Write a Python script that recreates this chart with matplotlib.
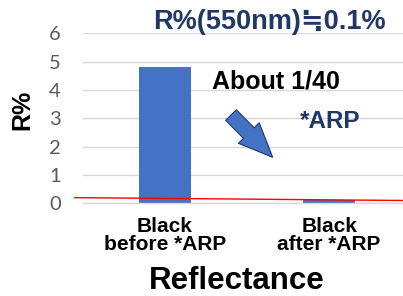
import matplotlib
matplotlib.use("Agg")
import matplotlib.pyplot as plt

plt.rcParams['font.family'] = ['Liberation Sans', 'DejaVu Sans', 'Noto Sans CJK JP']

# data
categories = ["Black\nbefore *ARP", "Black\nafter *ARP"]
reflectance = [4.8, 0.1]
yticks = [0, 1, 2, 3, 4, 5, 6]
# red reference line (approx 0.1 %)
ref_line_x = [-0.55, 1.45]
ref_line_y = [0.2, 0.1]

bar_color = "#4472C4"
navy = "#1F3864"

fig = plt.figure(figsize=(4.03, 2.96), dpi=100)
ax = fig.add_axes([83 / 403, 1 - 203.3 / 296, 320 / 403, (203.3 - 33.3) / 296])

x = list(range(len(categories)))
ax.bar(x, reflectance, width=0.32, color=bar_color, zorder=2)
ax.set_xlim(-0.5, 1.45)
ax.set_ylim(0, 6)
ax.set_yticks(yticks)
ax.grid(axis='y', color='#d9d9d9', linewidth=1, zorder=0)
ax.set_axisbelow(True)
for s in ['top', 'right', 'left']:
    ax.spines[s].set_visible(False)
ax.spines['bottom'].set_color('#d9d9d9')
ax.spines['bottom'].set_linewidth(1)
ax.tick_params(axis='y', length=0, pad=16, labelsize=14.5, labelcolor='#595959')
for lbl in ax.get_yticklabels():
    lbl.set_family(['Lato', 'DejaVu Sans'])
ax.tick_params(axis='x', length=0, pad=10)
ax.set_xticks(x)
ax.set_xticklabels(categories, fontsize=15, fontweight='bold', linespacing=0.95)

ax.plot(ref_line_x, ref_line_y, color='red', linewidth=1, clip_on=False, zorder=3)

ax.set_ylabel("R%", fontsize=18, fontweight='bold', va='center')
ax.yaxis.set_label_coords(-0.19, 0.549)
ax.set_xlabel("Reflectance", fontsize=22.5, fontweight='bold', va='top')
ax.xaxis.set_label_coords(0.48, -0.369)

fig.text(269 / 403, 1 - 22 / 296, "R%(550nm)≒0.1%", ha='center', va='center',
         fontsize=19.5, fontweight='bold', color=navy)
fig.text(276 / 403, 1 - 82 / 296, "About 1/40", ha='center', va='center',
         fontsize=18, fontweight='bold', color='black')
fig.text(330 / 403, 1 - 122 / 296, "*ARP", ha='center', va='center',
         fontsize=17.5, fontweight='bold', color=navy)

ax.annotate('', xy=(272.7, 296 - 157.3), xytext=(231, 296 - 115),
            xycoords='figure pixels', textcoords='figure pixels',
            arrowprops=dict(arrowstyle='simple,head_length=2.45,head_width=2.1,tail_width=1.08',
                            mutation_scale=10, fc=bar_color, ec=navy, lw=0.8,
                            shrinkA=0, shrinkB=0))

fig.savefig("out.png", dpi=100)
